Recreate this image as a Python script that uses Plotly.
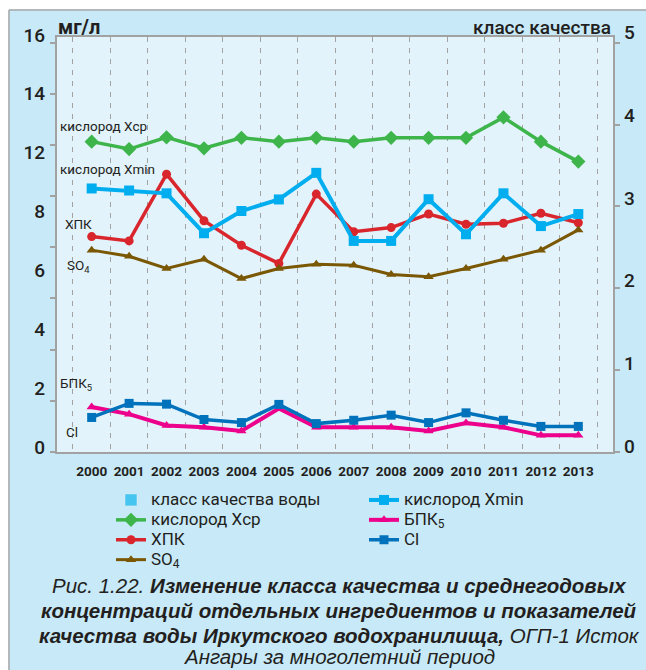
import plotly.graph_objects as go

# ---------------- data ----------------
years = ["2000", "2001", "2002", "2003", "2004", "2005", "2006",
         "2007", "2008", "2009", "2010", "2011", "2012", "2013"]
oxygen_avg = [12.13, 11.84, 12.30, 11.87, 12.28, 12.13, 12.28,
              12.13, 12.28, 12.28, 12.28, 13.08, 12.13, 11.35]
oxygen_min = [10.30, 10.22, 10.11, 8.55, 9.42, 9.87, 10.91,
              8.25, 8.25, 9.88, 8.51, 10.11, 8.83, 9.30]
cod = [8.42, 8.25, 10.86, 9.04, 8.08, 7.37, 10.08,
       8.61, 8.77, 9.30, 8.90, 8.94, 9.33, 8.96]
so4 = [7.89, 7.65, 7.17, 7.53, 6.78, 7.17, 7.34,
       7.30, 6.94, 6.85, 7.17, 7.53, 7.89, 8.68]
bod5 = [1.76, 1.48, 1.04, 0.97, 0.82, 1.70, 0.97,
        0.97, 0.97, 0.82, 1.13, 0.97, 0.65, 0.65]
chloride = [1.35, 1.90, 1.87, 1.27, 1.15, 1.86, 1.11,
            1.24, 1.44, 1.15, 1.53, 1.24, 1.00, 1.00]

left_tick_labels = ["0", "2", "4", "6", "8", "12", "14", "16"]
right_tick_labels = ["0", "1", "2", "3", "4", "5"]

# ---------------- layout geometry (screen pixels) ----------------
W, H = 646, 670
SCR_LEFT, SCR_RIGHT, SCR_TOP, SCR_BOTTOM = 57, 613, 37, 452
L = SCR_LEFT
R = W - SCR_RIGHT
B = H - SCR_BOTTOM
T = 0
PW, PH = W - L - R, H - T - B


def px(xs):
    return (xs - L) / PW


def py(ys):
    return (SCR_BOTTOM - ys) / PH


FONT = "Roboto, Liberation Sans, sans-serif"
TXT = "#231f20"
OUTER = "#c7e9f8"
INNER = "#e2f3fb"
GRAY = "#a2a2a2"

C_GREEN = "#3db54a"
C_LBLUE = "#00aeef"
C_RED = "#d9262c"
C_BROWN = "#7a5703"
C_MAG = "#ec008c"
C_CL = "#0072bc"
C_CLASS = "#45c5f0"

LEG_FS = 13


def lname(s):
    return '<span style="font-size:17px">' + s + '</span>'


fig = go.Figure()

fig.add_trace(go.Bar(x=[None], y=[None], name=lname("класс качества воды"),
                     marker_color=C_CLASS, yaxis="y2", legend="legend",
                     showlegend=True))
fig.add_trace(go.Scatter(x=years, y=oxygen_avg, name=lname("кислород Xср"),
                         mode="lines+markers", legend="legend",
                         line=dict(color=C_GREEN, width=3.5),
                         marker=dict(symbol="diamond", size=11, color=C_GREEN)))
fig.add_trace(go.Scatter(x=years, y=cod, name=lname("ХПК"),
                         mode="lines+markers", legend="legend",
                         line=dict(color=C_RED, width=3.5),
                         marker=dict(symbol="circle", size=9, color=C_RED)))
fig.add_trace(go.Scatter(x=years, y=so4, name=lname("SO<sub>4</sub>"),
                         mode="lines+markers", legend="legend",
                         line=dict(color=C_BROWN, width=3),
                         marker=dict(symbol="triangle-up", size=9, color=C_BROWN)))
fig.add_trace(go.Scatter(x=years, y=oxygen_min, name=lname("кислород Xmin"),
                         mode="lines+markers", legend="legend2",
                         line=dict(color=C_LBLUE, width=4),
                         marker=dict(symbol="square", size=10, color=C_LBLUE)))
fig.add_trace(go.Scatter(x=years, y=bod5, name=lname("БПК<sub>5</sub>"),
                         mode="lines+markers", legend="legend2",
                         line=dict(color=C_MAG, width=4),
                         marker=dict(symbol="triangle-up", size=9, color=C_MAG)))
fig.add_trace(go.Scatter(x=years, y=chloride, name=lname("Cl"),
                         mode="lines+markers", legend="legend2",
                         line=dict(color=C_CL, width=3.5),
                         marker=dict(symbol="square", size=9, color=C_CL)))
# carrier subplot for the tick labels of both value axes
fig.add_trace(go.Scatter(x=[None], y=[None], xaxis="x2", yaxis="y3", showlegend=False,
                         hoverinfo="skip"))
fig.add_trace(go.Scatter(x=[None], y=[None], xaxis="x2", yaxis="y4", showlegend=False,
                         hoverinfo="skip"))

shapes = [
    dict(type="rect", xref="x domain", yref="y domain", x0=0, x1=1, y0=0, y1=1,
         fillcolor=INNER, line_width=0, layer="below"),
    dict(type="rect", xref="paper", yref="paper", x0=px(0), x1=px(W), y0=py(9.5), y1=py(0),
         fillcolor="white", line_width=0, layer="below"),
    dict(type="rect", xref="paper", yref="paper", x0=px(0), x1=px(8.5), y0=py(H), y1=py(0),
         fillcolor="white", line_width=0, layer="below"),
    dict(type="line", xref="paper", yref="paper", x0=px(9), x1=px(W), y0=py(10), y1=py(10),
         line=dict(color="#a6a6a6", width=1.5)),
    dict(type="line", xref="paper", yref="paper", x0=px(9), x1=px(9), y0=py(10), y1=py(H),
         line=dict(color="#a6a6a6", width=1.5)),
]

annotations = []
annotations.append(dict(xref="paper", yref="paper", x=px(56), y=py(27), xanchor="left",
                        yanchor="middle", showarrow=False, text="<b>мг/л</b>",
                        font=dict(family=FONT, size=20, color=TXT)))
annotations.append(dict(xref="paper", yref="paper", x=px(613), y=py(27), xanchor="right",
                        yanchor="middle", showarrow=False, text="класс качества",
                        font=dict(family=FONT, size=19, color=TXT, weight=500)))
inline = [("кислород Xср", 58, 126), ("кислород Xmin", 58, 169), ("ХПК", 63, 224),
          ("SO<sub>4</sub>", 65, 266), ("БПК<sub>5</sub>", 58, 384), ("Cl", 64, 432)]
for t, xx, yy in inline:
    annotations.append(dict(xref="paper", yref="paper", x=px(xx), y=py(yy), xanchor="left",
                            yanchor="middle", showarrow=False, text=t,
                            font=dict(family=FONT, size=13.5, color=TXT)))
CAP = "Liberation Sans, Arial, sans-serif"
cap_lines = [
    ("<i>Рис. 1.22. <b>Изменение класса качества и среднегодовых</b></i>", 585),
    ("<i><b>концентраций отдельных ингредиентов и показателей</b></i>", 610),
    ("<i><b>качества воды Иркутского водохранилища,</b> ОГП-1 Исток</i>", 635),
    ("<i>Ангары за многолетний период</i>", 656),
]
for t, yy in cap_lines:
    annotations.append(dict(xref="paper", yref="paper", x=px(339), y=py(yy), xanchor="center",
                            yanchor="middle", showarrow=False, text=t,
                            font=dict(family=CAP, size=20.5, color=TXT)))


def label_range(bottom_center, step):
    a = -(SCR_BOTTOM - bottom_center) / step
    return [a, a + PH / step]


fig.update_layout(
    width=W, height=H,
    margin=dict(l=L, r=R, t=T, b=B, pad=0, autoexpand=False),
    paper_bgcolor=OUTER,
    plot_bgcolor="rgba(0,0,0,0)",
    font=dict(family=FONT, color=TXT),
    hovermode=False,
    xaxis=dict(type="category", tickson="boundaries", showgrid=True,
               gridcolor=GRAY, griddash="5px,6px", gridwidth=1.3,
               ticks="", showline=True, linecolor=GRAY, linewidth=1.5, mirror=True,
               tickangle=0, tickfont=dict(family=FONT, size=13.5, color=TXT, weight="bold"),
               ticklabelstandoff=6, zeroline=False, domain=[0, 1]),
    xaxis2=dict(visible=False, domain=[0, 1], anchor="y3", range=[0, 1]),
    yaxis=dict(range=[0, 16.22], dtick=2, showticklabels=False, showgrid=False,
               ticks="outside", ticklen=5, tickcolor=GRAY, tickwidth=1.5,
               showline=True, linecolor=GRAY, linewidth=1.5, zeroline=False,
               domain=[0, py(SCR_TOP)]),
    yaxis2=dict(range=[0, 5.07], overlaying="y", side="right", dtick=1,
                showticklabels=False, showgrid=False, ticks="outside", ticklen=5,
                tickcolor=GRAY, tickwidth=1.5, showline=True, linecolor=GRAY,
                linewidth=1.5, zeroline=False),
    yaxis3=dict(range=label_range(447, 58.86), anchor="x2", domain=[0, 1], side="left",
                tickvals=list(range(len(left_tick_labels))), ticktext=left_tick_labels,
                showgrid=False, ticks="", showline=False, zeroline=False,
                tickfont=dict(family=FONT, size=19, color=TXT, weight=500),
                ticklabelstandoff=11),
    yaxis4=dict(range=label_range(446, 82.7), anchor="x2", overlaying="y3", side="right",
                tickvals=list(range(len(right_tick_labels))), ticktext=right_tick_labels,
                showgrid=False, ticks="", showline=False, zeroline=False,
                tickfont=dict(family=FONT, size=19, color=TXT, weight=500),
                ticklabelstandoff=10),
    legend=dict(x=px(111), y=py(485), xanchor="left", yanchor="top",
                bgcolor="rgba(0,0,0,0)", font=dict(family=FONT, size=LEG_FS, color=TXT),
                tracegroupgap=0),
    legend2=dict(x=px(364), y=py(485), xanchor="left", yanchor="top",
                 bgcolor="rgba(0,0,0,0)", font=dict(family=FONT, size=LEG_FS, color=TXT),
                 tracegroupgap=0),
    shapes=shapes,
    annotations=annotations,
    showlegend=True,
)

fig.write_html(
    "out.html",
    config={"displayModeBar": False},
    post_script="document.body.style.margin='0';document.body.style.overflow='hidden';",
)
